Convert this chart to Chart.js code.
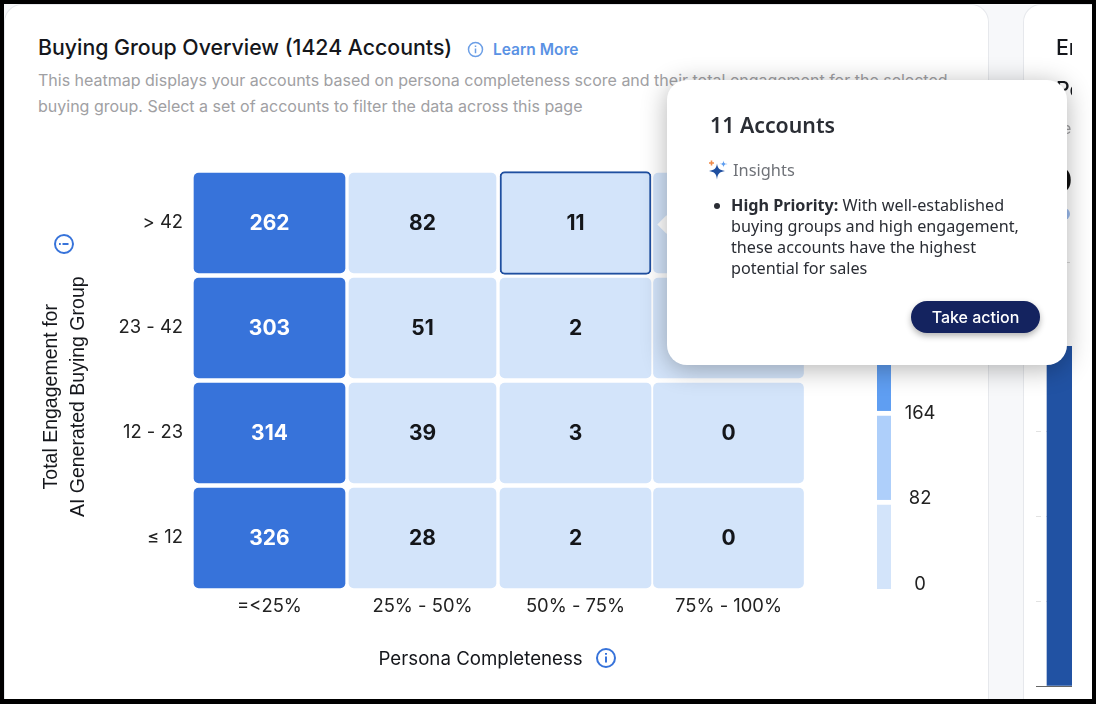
<!DOCTYPE html>
<html>
<head>
<meta charset="utf-8">
<title>Buying Group Overview</title>
<script src="https://cdn.jsdelivr.net/npm/chart.js@4/dist/chart.umd.min.js"></script>
<style>
  html, body { margin: 0; padding: 0; background: #000; }
  body { width: 1096px; height: 704px; overflow: hidden; position: relative; font-family: Inter, sans-serif; }
  .abs { position: absolute; white-space: nowrap; }
  #screen { position: absolute; left: 4px; top: 4px; width: 1088px; height: 695px; background: #f7f8fa; overflow: hidden; }
  #cardLeft { position: absolute; left: 0; top: 0; width: 985px; height: 695px; background: #fff; border: 1px solid #e6e8ec; border-width: 1px 1px 0 1px; border-radius: 18px 18px 0 0; box-sizing: border-box; }
  #cardRight { position: absolute; left: 1019px; top: 0; width: 69px; height: 695px; background: #fff; border: 1px solid #e6e8ec; border-width: 1px 0 0 1px; border-radius: 18px 0 0 0; box-sizing: border-box; }
  canvas { position: absolute; }
  #clipRight { position: absolute; left: 1024px; top: 4px; width: 48px; height: 695px; overflow: hidden; }
  #clipRight canvas { left: 12px; top: 0; }
  .heading { font-size: 21.3px; font-weight: 500; color: #15171c; }
  .sub { font-size: 16px; color: #a0a0a3; }
  #popover { position: absolute; left: 667px; top: 80px; width: 400px; height: 285px; background: #fff; border-radius: 20px; box-shadow: 0 4px 26px rgba(0,0,0,.3); font-family: "Noto Sans", sans-serif; }
  #arrow { position: absolute; left: 660px; top: 218px; width: 13px; height: 13px; background: #fff; transform: rotate(45deg); }
  #popover .abs { color: #2a2d34; }
  #takeAction { position: absolute; left: 244px; top: 221px; width: 129px; height: 32px; border-radius: 16px; background: #14235f; color: #fff; font: 500 16px/32px Inter, sans-serif; text-align: center; box-shadow: 0 3px 6px rgba(0,0,0,.3); }
</style>
</head>
<body>
<div id="screen">
  <div id="cardLeft"></div>
  <div id="cardRight"></div>
</div>

<div class="abs heading" style="left:38px;top:34px">Buying Group Overview (1424 Accounts)</div>
<svg class="abs" style="left:467px;top:41px" width="17" height="17" viewBox="0 0 17 17" fill="none" stroke="#6c9fe6" stroke-width="1.5">
  <circle cx="8.5" cy="8.5" r="7"/><path d="M8.5 7.6v4.6M8.5 4.6v1.3"/>
</svg>
<div class="abs" style="left:493px;top:40px;font-size:15.5px;font-weight:600;color:#5a92e4">Learn More</div>
<div class="abs sub" style="left:38px;top:70px">This heatmap displays your accounts based on persona completeness score and their total engagement for the selected</div>
<div class="abs sub" style="left:38px;top:96px">buying group. Select a set of accounts to filter the data across this page</div>

<canvas id="heatmap" width="1096" height="704" style="left:0;top:0"></canvas>
<canvas id="scaleBar" width="130" height="440" style="left:850px;top:200px"></canvas>

<!-- info icons next to the two axis titles -->
<svg class="abs" style="left:53px;top:233px;transform:rotate(-90deg)" width="22" height="22" viewBox="0 0 22 22" fill="none" stroke="#3773da" stroke-width="2">
  <circle cx="11" cy="11" r="9"/><path d="M11 9.6v6M11 6v1.8"/>
</svg>
<svg class="abs" style="left:595px;top:647px" width="22" height="22" viewBox="0 0 22 22" fill="none" stroke="#3773da" stroke-width="2">
  <circle cx="11" cy="11" r="9"/><path d="M11 9.6v6M11 6v1.8"/>
</svg>

<div id="clipRight">
  <canvas id="sideChart" width="64" height="695"></canvas>
  <div class="abs heading" style="left:32px;top:30px">En</div>
  <div class="abs heading" style="left:32px;top:72px">Pe</div>
  <div class="abs sub" style="left:38px;top:114px">e</div>
  <div class="abs" style="left:26px;top:156px;font-size:33px;font-weight:700;color:#111">0</div>
  <svg class="abs" style="left:32px;top:202px" width="16" height="16"><circle cx="8" cy="8" r="6" fill="#9dbdf0"/></svg>
  <div class="abs" style="left:38px;top:258px;width:8px;height:1px;background:#d8d8d8"></div>
</div>

<div id="arrow"></div>
<div id="popover">
  <div class="abs" style="left:43px;top:30px;font-size:21.3px;font-weight:600">11 Accounts</div>
  <svg class="abs" style="left:41px;top:80px" width="20" height="20" viewBox="0 0 20 20">
    <path d="M9 3.5C9.7 8.4 11.2 10 17 11 11.2 12 9.7 13.6 9 19.5 8.3 13.6 6.8 12 1 11 6.8 10 8.3 8.4 9 3.5Z" fill="#1f4fa0"/>
    <path d="M15.5 0.5C15.8 3 16.5 3.7 19.5 4 16.5 4.4 15.8 5 15.5 7.5 15.2 5 14.5 4.4 11.5 4 14.5 3.7 15.2 3 15.5 0.5Z" fill="#5b9cf0"/>
    <path d="M3.5 0.5v5M1 3h5" stroke="#ef8a4a" stroke-width="1.6"/>
  </svg>
  <div class="abs" style="left:66px;top:78px;font-size:16.4px;color:#6f7278">Insights</div>
  <svg class="abs" style="left:46px;top:122px" width="8" height="8"><circle cx="4" cy="4" r="3" fill="#2a2d34"/></svg>
  <div class="abs" style="left:64px;top:114.5px;font-size:16.2px;line-height:21.3px">
    <b style="font-weight:700">High Priority:</b> With well-established<br>buying groups and high engagement,<br>these accounts have the highest<br>potential for sales
  </div>
  <div id="takeAction">Take action</div>
</div>

<script>
// heatmap axes
const completeness = ["=<25%", "25% - 50%", "50% - 75%", "75% - 100%"];
const engagement = ["≤ 12", "12 - 23", "23 - 42", "> 42"];

// account counts per completeness column, lowest engagement band first
const under25 = [326, 314, 303, 262];
const from25to50 = [28, 39, 51, 82];
const from50to75 = [2, 3, 2, 11];
const from75to100 = [0, 0, 0, 1];
const columns = [under25, from25to50, from50to75, from75to100];

// colour scale bands
const bandSteps = [82, 82, 82, 82];
const bandTicks = [0, 82, 164, 246];
const bandColors = ["#d3e4fa", "#aecffa", "#5f9ef2", "#3773da"];

// engaged accounts bar in the neighbouring card
const sideCategories = ["Engaged"];
const sideValues = [4];

const colWidths = [151, 147, 151, 150];
const selected = { col: 2, row: 3 };

function bandColor(v) {
  for (let i = 0; i < bandTicks.length - 1; i++) {
    if (v <= bandTicks[i + 1]) return bandColors[i];
  }
  return bandColors[bandColors.length - 1];
}

function isSelected(col, row) {
  return col === selected.col && row === selected.row;
}

// each cell is a floating bar one row tall, less the gap between rows
const heatmapDatasets = columns.map((counts, col) => ({
  counts: counts,
  data: counts.map((v, row) => {
    const half = isSelected(col, row) ? 0.49 : 0.476;
    return { x: completeness[col], y: [row + 0.5 - half, row + 0.5 + half] };
  }),
  backgroundColor: counts.map(bandColor),
  borderColor: "#1f4fa0",
  borderWidth: counts.map((v, row) => (isSelected(col, row) ? 2 : 0)),
  borderSkipped: false,
  borderRadius: 5,
  barThickness: colWidths[col],
}));

const cellLabels = {
  id: "cellLabels",
  afterDatasetsDraw(chart) {
    const ctx = chart.ctx;
    ctx.save();
    ctx.font = "700 21px Inter";
    ctx.textAlign = "center";
    ctx.textBaseline = "middle";
    chart.data.datasets.forEach((ds, i) => {
      chart.getDatasetMeta(i).data.forEach((bar, row) => {
        const p = bar.getCenterPoint();
        ctx.fillStyle = ds.counts[row] > bandTicks[3] ? "#ffffff" : "#14161a";
        ctx.fillText(ds.counts[row], p.x, p.y + 1);
      });
    });
    ctx.restore();
  },
};

const heatmap = new Chart(document.getElementById("heatmap"), {
  type: "bar",
  data: { labels: completeness, datasets: heatmapDatasets },
  plugins: [cellLabels],
  options: {
    responsive: false,
    animation: false,
    events: [],
    layout: { padding: { left: 39, top: 170.5, right: 291, bottom: 30 } },
    plugins: { legend: { display: false }, tooltip: { enabled: false } },
    datasets: { bar: { grouped: false } },
    scales: {
      x: {
        grid: { display: false, tickLength: 0 },
        border: { display: false },
        ticks: { color: "#222", padding: 5, font: { family: "Inter", size: 18.4 }, maxRotation: 0 },
        // trailing spaces leave room for the info icon after the title
        title: { display: true, text: "Persona Completeness       ", color: "#15171c", font: { family: "Inter", size: 18.7 }, padding: { top: 0, bottom: 3 } },
        afterFit: (s) => { s.height = 83.5; },
      },
      y: {
        min: 0,
        max: 4,
        grid: { display: false, tickLength: 0 },
        border: { display: false },
        afterBuildTicks: (s) => { s.ticks = engagement.map((l, i) => ({ value: i + 0.5 })); },
        ticks: {
          color: "#222",
          padding: 10,
          labelOffset: -1,
          font: { family: "Inter", size: 18.4 },
          callback: (v) => engagement[Math.floor(v)],
        },
        title: {
          display: true,
          // trailing spaces keep the title clear of the info icon above it
          text: ["Total Engagement for      ", "AI Generated Buying Group      "],
          color: "#15171c",
          font: { family: "Liberation Sans", size: 19.5, lineHeight: 1.34 },
          padding: 0,
        },
        afterFit: (s) => { s.width = 154; },
      },
    },
  },
});

// vertical colour scale; labels run on their own axis beside the stacked bands
new Chart(document.getElementById("scaleBar"), {
  type: "bar",
  data: {
    labels: ["Accounts"],
    datasets: bandSteps.map((step, i) => ({
      data: [step],
      backgroundColor: bandColors[i],
      borderColor: "#ffffff",
      borderWidth: { top: 5, left: 0, right: 0, bottom: 0 },
      borderSkipped: false,
      barThickness: 14,
    })),
  },
  options: {
    responsive: false,
    animation: false,
    events: [],
    layout: { padding: { left: 27, right: 39, top: 33, bottom: 51 } },
    plugins: { legend: { display: false }, tooltip: { enabled: false } },
    scales: {
      x: { stacked: true, display: false },
      y: { stacked: true, min: 0, max: 328, display: false },
      bands: {
        position: "right",
        min: -4.8,
        max: 336.6,
        grid: { display: false, tickLength: 0 },
        border: { display: false },
        afterBuildTicks: (s) => { s.ticks = bandTicks.map((v) => ({ value: v })); },
        afterFit: (s) => { s.width = 50; },
        ticks: { color: "#222", padding: 12, crossAlign: "center", font: { family: "Inter", size: 18.4 } },
      },
    },
  },
});

new Chart(document.getElementById("sideChart"), {
  type: "bar",
  data: {
    labels: sideCategories,
    datasets: [{ data: sideValues, backgroundColor: "#2152a3", barThickness: 42 }],
  },
  options: {
    responsive: false,
    animation: false,
    events: [],
    layout: { padding: { left: 0, right: 0, top: 342, bottom: 13 } },
    plugins: { legend: { display: false }, tooltip: { enabled: false } },
    scales: {
      x: { grid: { display: false, tickLength: 0 }, ticks: { display: false, padding: 0 }, border: { color: "#666", width: 1 } },
      y: {
        min: 0,
        max: 4,
        grid: { color: "#e2e2e2", tickLength: 0 },
        border: { display: false, dash: [5, 5] },
        ticks: { display: false, stepSize: 1 },
      },
    },
  },
});
</script>
</body>
</html>
